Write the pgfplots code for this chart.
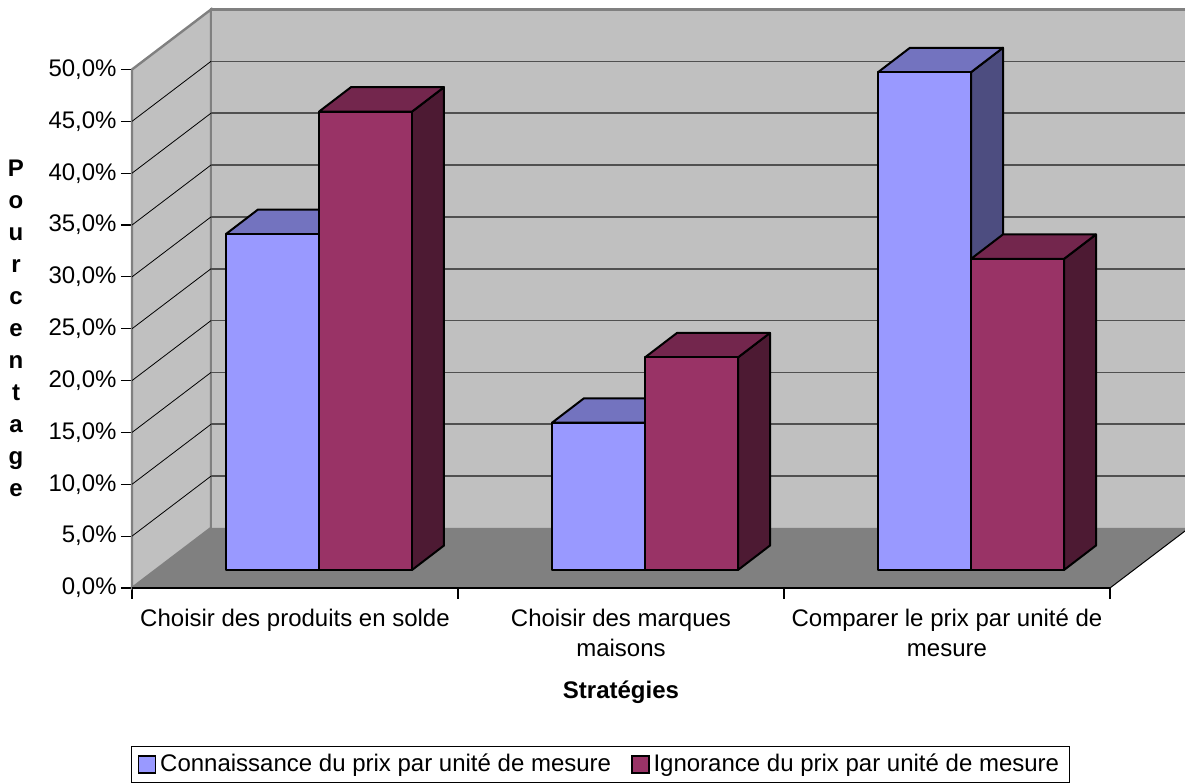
\documentclass[border=0pt]{standalone}
\usepackage{fontspec}
\setmainfont{Liberation Sans}
\usepackage{pgfplots}
\pgfplotsset{compat=1.18}

% wall, floor and bar face colours
\definecolor{wall}{HTML}{C0C0C0}
\definecolor{floorc}{HTML}{808080}
\definecolor{edge}{HTML}{808080}
\definecolor{gridc}{HTML}{505050}
\definecolor{blueF}{HTML}{9999FF}
\definecolor{blueT}{HTML}{7373BF}
\definecolor{blueS}{HTML}{4D4D80}
\definecolor{redF}{HTML}{993366}
\definecolor{redT}{HTML}{73264D}
\definecolor{redS}{HTML}{4D1A33}

% bar geometry: width (x units), depth offset (x units / percent), base level
\def\bw{93}
\def\bdx{32}
\def\bdy{2.36}
\def\bbase{1.736}

% one 3-D bar: #1 left edge of front face, #2 value (%), #3 front, #4 top, #5 side colour
\newcommand{\cuboid}[5]{%
  \pgfmathsetmacro{\xa}{#1}%
  \pgfmathsetmacro{\xb}{#1+\bw}%
  \pgfmathsetmacro{\xc}{#1+\bdx}%
  \pgfmathsetmacro{\xd}{#1+\bw+\bdx}%
  \pgfmathsetmacro{\ya}{\bbase}%
  \pgfmathsetmacro{\yb}{\bbase+#2}%
  \pgfmathsetmacro{\yc}{\bbase+\bdy}%
  \pgfmathsetmacro{\yd}{\bbase+#2+\bdy}%
  \addplot[fill=#5, draw=black, line width=1pt, line join=round, forget plot]
    coordinates {(\xb,\ya) (\xd,\yc) (\xd,\yd) (\xb,\yb)} -- cycle;
  \addplot[fill=#4, draw=black, line width=1pt, line join=round, forget plot]
    coordinates {(\xa,\yb) (\xb,\yb) (\xd,\yd) (\xc,\yd)} -- cycle;
  \addplot[fill=#3, draw=black, line width=1pt, line join=round, forget plot]
    coordinates {(\xa,\ya) (\xb,\ya) (\xb,\yb) (\xa,\yb)} -- cycle;
}

\begin{document}
\begin{tikzpicture}[font=\fontsize{12}{14}\selectfont]
\begin{axis}[
  x=0.5pt, y=5.185pt,
  xmin=132, xmax=1110, ymin=0, ymax=50,
  axis lines*=left,
  axis line style={draw=none},
  clip=false,
  ytick={0,5,...,50},
  xtick={132,458,784,1110},
  xticklabels={},
  tick align=outside,
  major tick length=5.5pt,
  tick style={black, line width=0.6pt},
  /pgf/number format/assume math mode=true,
  yticklabel={\pgfmathprintnumber[fixed,fixed zerofill,precision=1,use comma]{\tick}\%},
  yticklabel style={font=\fontsize{12}{14}\selectfont, inner sep=0pt, xshift=-2pt},
  legend columns=2,
  legend style={at={(0.479,-0.3404)}, anchor=center, draw=black, line width=0.5pt,
    font=\fontsize{12}{14}\selectfont, inner xsep=3pt, inner ysep=2pt,
    /tikz/every even column/.append style={column sep=8pt}},
  legend image code/.code={\draw[#1, line width=0.8pt] (0pt,-4.2pt) rectangle (8.4pt,4.2pt);},
]
% side wall, back wall and floor
\addplot[fill=wall, draw=edge, line width=1.2pt, forget plot]
  coordinates {(132,0) (211,5.786) (211,55.786) (132,50)} -- cycle;
\addplot[fill=wall, draw=none, forget plot]
  coordinates {(211,5.786) (1189,5.786) (1189,55.786) (211,55.786)} -- cycle;
\addplot[edge, line width=1.2pt, forget plot]
  coordinates {(211,5.786) (211,55.786) (1189,55.786)};
% horizontal gridlines on the back wall
\addplot[gridc, line width=0.8pt, forget plot] coordinates {(211,10.786) (1189,10.786)};
\addplot[gridc, line width=0.8pt, forget plot] coordinates {(211,15.786) (1189,15.786)};
\addplot[gridc, line width=0.8pt, forget plot] coordinates {(211,20.786) (1189,20.786)};
\addplot[gridc, line width=0.8pt, forget plot] coordinates {(211,25.786) (1189,25.786)};
\addplot[gridc, line width=0.8pt, forget plot] coordinates {(211,30.786) (1189,30.786)};
\addplot[gridc, line width=0.8pt, forget plot] coordinates {(211,35.786) (1189,35.786)};
\addplot[gridc, line width=0.8pt, forget plot] coordinates {(211,40.786) (1189,40.786)};
\addplot[gridc, line width=0.8pt, forget plot] coordinates {(211,45.786) (1189,45.786)};
\addplot[gridc, line width=0.8pt, forget plot] coordinates {(211,50.786) (1189,50.786)};
% gridlines on the side wall
\addplot[black, line width=0.4pt, forget plot] coordinates {(132,5) (211,10.786)};
\addplot[black, line width=0.4pt, forget plot] coordinates {(132,10) (211,15.786)};
\addplot[black, line width=0.4pt, forget plot] coordinates {(132,15) (211,20.786)};
\addplot[black, line width=0.4pt, forget plot] coordinates {(132,20) (211,25.786)};
\addplot[black, line width=0.4pt, forget plot] coordinates {(132,25) (211,30.786)};
\addplot[black, line width=0.4pt, forget plot] coordinates {(132,30) (211,35.786)};
\addplot[black, line width=0.4pt, forget plot] coordinates {(132,35) (211,40.786)};
\addplot[black, line width=0.4pt, forget plot] coordinates {(132,40) (211,45.786)};
\addplot[black, line width=0.4pt, forget plot] coordinates {(132,45) (211,50.786)};
% floor
\addplot[fill=floorc, draw=none, forget plot]
  coordinates {(132,0) (1110,0) (1189,5.786) (211,5.786)} -- cycle;
\addplot[black, line width=0.5pt, forget plot] coordinates {(1110,0) (1189,5.786)};
\addplot[black, line width=1pt, forget plot] coordinates {(132,0) (1110,0)};

% bars: Connaissance (blue) and Ignorance (red) per strategy
\cuboid{226}{32.4}{blueF}{blueT}{blueS}
\cuboid{319}{44.2}{redF}{redT}{redS}
\cuboid{552}{14.2}{blueF}{blueT}{blueS}
\cuboid{645}{20.5}{redF}{redT}{redS}
\cuboid{878}{48.0}{blueF}{blueT}{blueS}
\cuboid{971}{30.0}{redF}{redT}{redS}

\addlegendimage{fill=blueF, draw=black}
\addlegendentry{Connaissance du prix par unité de mesure}
\addlegendimage{fill=redF, draw=black}
\addlegendentry{Ignorance du prix par unité de mesure}

% category labels
\node[anchor=base] at (axis cs:295,-3.76) {Choisir des produits en solde};
\node[anchor=base] at (axis cs:621,-3.76) {Choisir des marques};
\node[anchor=base] at (axis cs:621,-6.62) {maisons};
\node[anchor=base] at (axis cs:947,-3.76) {Comparer le prix par unité de};
\node[anchor=base] at (axis cs:947,-6.62) {mesure};
% axis titles
\node[anchor=base, font=\fontsize{12}{14}\selectfont\bfseries] at (axis cs:621,-10.7) {Stratégies};
\node[align=center, font=\fontsize{12}{16}\selectfont\bfseries] at (axis cs:16,25)
  {P\\o\\u\\r\\c\\e\\n\\t\\a\\g\\e};

\coordinate (BL) at (axis cs:0,-18.804);
\coordinate (TR) at (axis cs:1185,56.702);
\end{axis}
\pgfresetboundingbox
\path[use as bounding box] (BL) rectangle (TR);
\end{tikzpicture}
\end{document}
